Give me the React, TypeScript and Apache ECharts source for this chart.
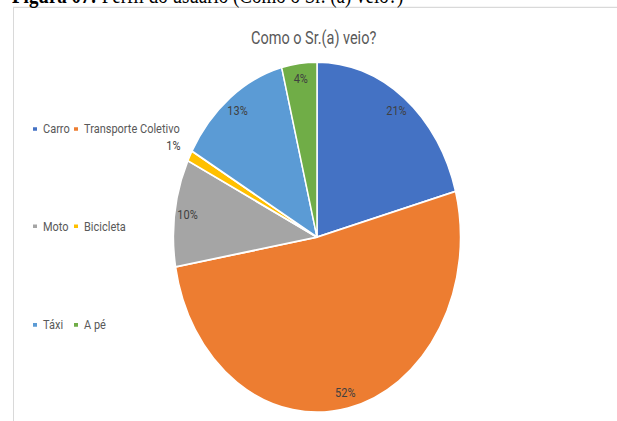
import React, { useEffect, useRef } from "react";
import * as echarts from "echarts";

const categories = ["Carro", "Transporte Coletivo", "Moto", "Bicicleta", "Táxi", "A pé"];
const values = [21, 52, 10, 1, 13, 4];
const colors = ["#4472C4", "#ED7D31", "#A5A5A5", "#FFC000", "#5B9BD5", "#70AD47"];
const chartTitle = "Como o Sr.(a) veio?";
const captionBold = "Figura 07:";
const captionRest = " Perfil do usuário (Como o Sr. (a) veio?)";
const outsideLabelIndex = 3;

const W = 617;
const H = 345;
const K = 421 / H;
const CX = 317;
const CY = 194.3;
const R = 143.5;
const FONT = "Roboto";

const legendCols = [31, 72];
const legendRows = [105.7, 185.4, 266.2];

export default function App() {
  const ref = useRef<HTMLDivElement>(null);
  useEffect(() => {
    if (!ref.current) return;
    const chart = echarts.init(ref.current, undefined, { renderer: "svg" });
    const legends = categories.map((name, i) => ({
      data: [name],
      left: legendCols[i % 2],
      top: legendRows[Math.floor(i / 2)] - 6,
      padding: 0,
      icon: "rect",
      itemWidth: 6,
      itemHeight: 5,
      selectedMode: false,
      textStyle: { fontFamily: FONT, fontSize: 11, color: "#595959", lineHeight: 12 },
    }));
    const baseData = categories.map((name, i) => ({ name, value: values[i] }));
    chart.setOption({
      animation: false,
      color: colors,
      title: {
        text: chartTitle,
        left: 251,
        top: 24,
        padding: 0,
        textStyle: { fontFamily: FONT, fontSize: 14.5, fontWeight: "normal", color: "#595959" },
      },
      legend: legends,
      graphic: [
        {
          type: "line",
          shape: { x1: 13, y1: 6, x2: W, y2: 6 },
          style: { stroke: "#d9d9d9", lineWidth: 1 },
          silent: true,
        },
        {
          type: "line",
          shape: { x1: 13.5, y1: 6, x2: 13.5, y2: H },
          style: { stroke: "#d9d9d9", lineWidth: 1 },
          silent: true,
        },
        {
          type: "text",
          x: 12,
          y: -3.5,
          silent: true,
          style: {
            text: "{b|" + captionBold + "}{n|" + captionRest + "}",
            fill: "#000",
            verticalAlign: "middle",
            rich: {
              b: { fontFamily: "Liberation Serif", fontSize: 19, fontWeight: "bold", fill: "#000" },
              n: { fontFamily: "Liberation Serif", fontSize: 19, fontWeight: "normal", fill: "#000" },
            },
          },
        },
      ],
      series: [
        {
          type: "pie",
          center: [CX, CY],
          radius: R,
          startAngle: 90,
          clockwise: true,
          silent: true,
          label: { show: false },
          labelLine: { show: false },
          itemStyle: { borderColor: "#ffffff", borderWidth: 1.5 },
          data: baseData,
        },
        {
          type: "pie",
          center: [CX, CY],
          radius: [112, R],
          startAngle: 90,
          clockwise: true,
          silent: true,
          itemStyle: { color: "rgba(0,0,0,0)" },
          label: {
            show: true,
            position: "inside",
            formatter: "{c}%",
            fontFamily: FONT,
            fontSize: 11,
            color: "#404040",
          },
          labelLine: { show: false },
          data: baseData.map((d, i) =>
            i === outsideLabelIndex ? { ...d, label: { show: false } } : d
          ),
        },
        {
          type: "pie",
          center: [CX, CY],
          radius: [150, 168],
          startAngle: 90,
          clockwise: true,
          silent: true,
          itemStyle: { color: "rgba(0,0,0,0)" },
          label: {
            show: false,
            position: "inside",
            formatter: "{c}%",
            fontFamily: FONT,
            fontSize: 11,
            color: "#404040",
          },
          labelLine: { show: false },
          data: baseData.map((d, i) =>
            i === outsideLabelIndex ? { ...d, label: { show: true } } : d
          ),
        },
      ],
    });
    return () => chart.dispose();
  }, []);
  return (
    <div
      style={{
        position: "absolute",
        left: 0,
        top: 0,
        width: W,
        height: 421,
        overflow: "hidden",
        background: "#fff",
      }}
    >
      <div
        ref={ref}
        style={{
          width: W,
          height: H,
          transform: `scaleY(${K})`,
          transformOrigin: "0 0",
        }}
      />
    </div>
  );
}
